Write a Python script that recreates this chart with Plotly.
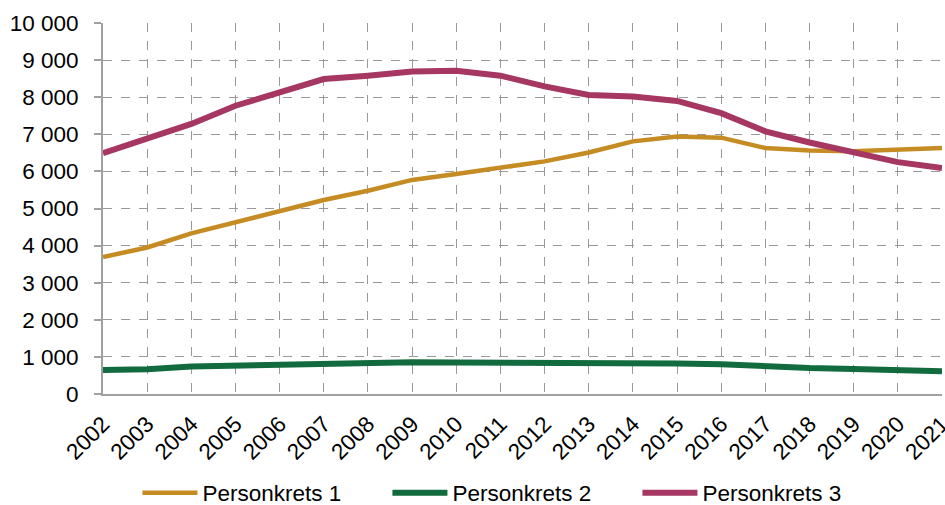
import plotly.graph_objects as go

years = list(range(2002, 2022))
personkrets_1 = [3690, 3950, 4330, 4640, 4920, 5230, 5480, 5770, 5930, 6100,
                 6270, 6510, 6810, 6940, 6910, 6630, 6560, 6540, 6580, 6630]
personkrets_2 = [650, 670, 740, 765, 810, 845, 850, 855, 850, 850,
                 840, 810, 835, 820, 805, 745, 700, 675, 660, 610]
personkrets_3 = [6490, 6890, 7280, 7770, 8130, 8490, 8580, 8690, 8710, 8580,
                 8290, 8060, 8020, 7900, 7570, 7080, 6780, 6510, 6250, 6090]
series_names = ["Personkrets 1", "Personkrets 2", "Personkrets 3"]
y_ticks = list(range(0, 10001, 1000))

colors = ["#C68C24", "#116B3E", "#A63763"]
widths = [4.5, 6, 6]

fig = go.Figure()
for name, vals, c, w in zip(series_names, [personkrets_1, personkrets_2, personkrets_3], colors, widths):
    fig.add_trace(go.Scatter(x=years, y=vals, name=name, mode="lines",
                             line=dict(color=c, width=w)))

fig.update_layout(
    width=945, height=505,
    margin=dict(l=103, r=3, t=23, b=111, autoexpand=False),
    paper_bgcolor="white", plot_bgcolor="white",
    separators=", ",
    font=dict(family="Liberation Sans, Arial, sans-serif", size=22.5, color="#000"),
    showlegend=True,
    legend=dict(orientation="h", x=0.488, xanchor="center", y=-0.267, yanchor="middle",
                font=dict(size=22.5), entrywidth=180, itemwidth=55,
                tracegroupgap=0),
)
fig.update_xaxes(
    range=[2002, 2021], tickmode="array", tickvals=years, ticktext=[str(y) for y in years],
    tickangle=-45, showgrid=True, gridcolor="#999999", griddash="dash", gridwidth=1,
    showline=True, linecolor="#A0A0A0", linewidth=2, ticks="", zeroline=False,
    tickfont=dict(size=22.5), automargin=False, ticklabeloverflow="allow",
    ticklabelstandoff=6,
)
fig.update_yaxes(
    range=[0, 10000], tickmode="array", tickvals=y_ticks, tickformat=",d",
    showgrid=True, gridcolor="#999999", griddash="dash", gridwidth=1,
    showline=True, linecolor="#A0A0A0", linewidth=2, ticks="outside", ticklen=7,
    tickcolor="#A0A0A0", tickwidth=1.5, zeroline=False, ticklabelstandoff=11,
    tickfont=dict(size=22.5), automargin=False,
)
fig.write_html(
    "out.html",
    config={"displayModeBar": False},
    post_script="document.body.style.margin='0';document.body.style.overflow='hidden';",
)
